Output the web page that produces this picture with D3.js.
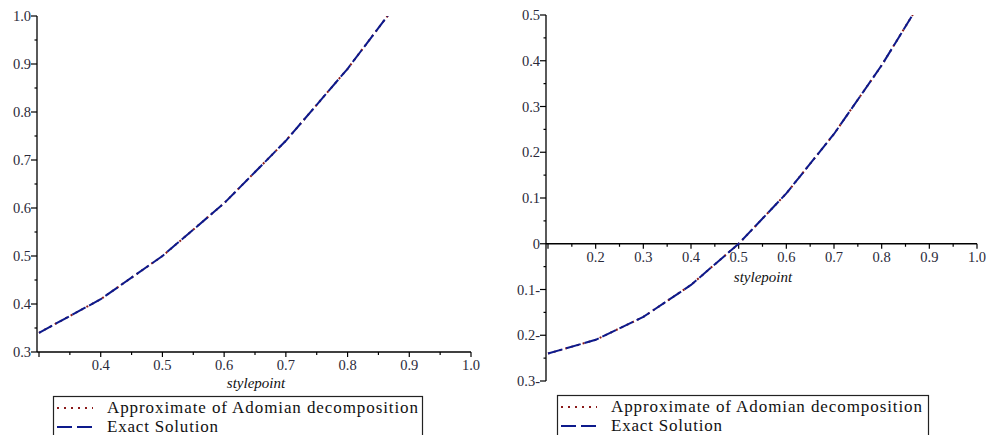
<!DOCTYPE html>
<html>
<head>
<meta charset="utf-8">
<script src="https://cdn.jsdelivr.net/npm/d3@7/dist/d3.min.js"></script>
<style>
  html, body { margin: 0; padding: 0; background: #fff; }
  svg { display: block; }
</style>
</head>
<body>
<svg id="chart" width="986" height="435"></svg>
<script>
// ---- Data ----
const leftX = [0.3, 0.4, 0.5, 0.6, 0.7, 0.8, 0.9, 1.0];
const leftApprox = [0.34, 0.41, 0.50, 0.61, 0.74, 0.89, 1.06, 1.25];
const leftExact  = [0.34, 0.41, 0.50, 0.61, 0.74, 0.89, 1.06, 1.25];

const rightX = [0.1, 0.2, 0.3, 0.4, 0.5, 0.6, 0.7, 0.8, 0.9, 1.0];
const rightApprox = [-0.24, -0.21, -0.16, -0.09, 0.0, 0.11, 0.24, 0.39, 0.56, 0.75];
const rightExact  = [-0.24, -0.21, -0.16, -0.09, 0.0, 0.11, 0.24, 0.39, 0.56, 0.75];

const leftXTicks = [0.4, 0.5, 0.6, 0.7, 0.8, 0.9, 1.0];
const leftYTicks = [0.3, 0.4, 0.5, 0.6, 0.7, 0.8, 0.9, 1.0];
const rightXTicks = [0.2, 0.3, 0.4, 0.5, 0.6, 0.7, 0.8, 0.9, 1.0];
const rightYTicks = [-0.3, -0.2, -0.1, 0, 0.1, 0.2, 0.3, 0.4, 0.5];
const rightYTickLabels = ["0.3-", "0.2-", "0.1-", "0", "0.1", "0.2", "0.3", "0.4", "0.5"];

const legendLabels = ["Approximate of Adomian decomposition", "Exact Solution"];
const xAxisTitle = "stylepoint";

// ---- Styles ----
const approxColor = "#8b1a1a";
const exactColor = "#0d1a8c";
const labelColor = "#2a2a3a";
const FONT = "Liberation Serif";

const svg = d3.select("#chart");

function drawPanel(cfg) {
  const g = svg.append("g");
  const x = d3.scaleLinear().domain(cfg.xDomain).range(cfg.xRange);
  const y = d3.scaleLinear().domain(cfg.yDomain).range(cfg.yRange);
  const x0 = cfg.yAxisAtX;
  const y0 = cfg.xAxisAtY;

  const clipId = "clip" + cfg.id;
  svg.append("clipPath").attr("id", clipId).append("rect")
    .attr("x", cfg.xRange[0] - 2).attr("y", cfg.yRange[1])
    .attr("width", cfg.xRange[1] - cfg.xRange[0] + 4)
    .attr("height", cfg.yRange[0] - cfg.yRange[1]);

  // x axis
  const xMinor = d3.range(cfg.xDomain[0], cfg.xDomain[1] + 0.001, 0.05).map(v => +v.toFixed(2));
  const xAxisG = g.append("g").attr("transform", `translate(0,${y(y0)})`);
  xAxisG.append("line").attr("x1", x(cfg.xDomain[0]) - 2).attr("x2", x(cfg.xDomain[1]))
    .attr("stroke", "#000").attr("stroke-width", 1.3);
  xAxisG.selectAll(".xm").data(xMinor).join("line")
    .attr("x1", d => x(d)).attr("x2", d => x(d))
    .attr("y1", 0).attr("y2", d => (Math.round(d * 100) % 10 === 0) ? 5 : 3)
    .attr("stroke", "#000").attr("stroke-width", 1.2);
  xAxisG.selectAll(".xl").data(cfg.xTicks).join("text")
    .attr("x", d => x(d)).attr("y", 18)
    .attr("text-anchor", "middle")
    .style("font-family", FONT).style("font-size", "14.5px").attr("fill", labelColor)
    .text(d => d.toFixed(1));

  // y axis
  const yMinor = d3.range(cfg.yDomain[0], cfg.yDomain[1] + 0.001, 0.05).map(v => +v.toFixed(2));
  const yAxisG = g.append("g").attr("transform", `translate(${x(x0) - cfg.yAxisOffset},0)`);
  yAxisG.append("line").attr("y1", y(cfg.yDomain[0])).attr("y2", y(cfg.yDomain[1]))
    .attr("stroke", "#000").attr("stroke-width", 1.3);
  yAxisG.selectAll(".ym").data(yMinor).join("line")
    .attr("y1", d => y(d)).attr("y2", d => y(d))
    .attr("x1", 0).attr("x2", d => (Math.round(Math.abs(d) * 100) % 10 === 0) ? -6 : -2.5)
    .attr("stroke", "#000").attr("stroke-width", 1.2);
  yAxisG.selectAll(".yl").data(cfg.yTicks).join("text")
    .attr("x", -6).attr("y", d => y(d))
    .attr("dy", "0.35em")
    .attr("text-anchor", "end")
    .style("font-family", FONT).style("font-size", "14.5px").attr("fill", labelColor)
    .text((d, i) => cfg.yTickLabels ? cfg.yTickLabels[i] : d.toFixed(1));

  // axis title
  g.append("text")
    .attr("x", cfg.titlePos[0]).attr("y", cfg.titlePos[1])
    .attr("text-anchor", "middle")
    .style("font-family", FONT).style("font-style", "italic").style("font-size", "15px")
    .attr("fill", "#111")
    .text(xAxisTitle);

  // lines
  const line = d3.line().x(d => x(d[0])).y(d => y(d[1]));
  const lines = g.append("g").attr("clip-path", `url(#${clipId})`);
  lines.append("path")
    .datum(cfg.xs.map((v, i) => [v, cfg.approx[i]]))
    .attr("d", line).attr("fill", "none")
    .attr("stroke", approxColor).attr("stroke-width", 2)
    .attr("stroke-dasharray", "2,4");
  lines.append("path")
    .datum(cfg.xs.map((v, i) => [v, cfg.exact[i]]))
    .attr("d", line).attr("fill", "none")
    .attr("stroke", exactColor).attr("stroke-width", 2)
    .attr("stroke-dasharray", "15,4");

  // legend
  const lg = g.append("g").attr("transform", `translate(${cfg.legend[0]},${cfg.legend[1]})`);
  lg.append("rect").attr("x", 0.5).attr("y", 0.5)
    .attr("width", cfg.legendW).attr("height", 60)
    .attr("fill", "#fff").attr("stroke", "#222").attr("stroke-width", 1.2);
  const rows = [
    { label: legendLabels[0], color: approxColor, dash: "2,5", width: 311 },
    { label: legendLabels[1], color: exactColor, dash: "15,5", width: 111 }
  ];
  rows.forEach((r, i) => {
    const ry = 12 + i * 19;
    lg.append("line").attr("x1", 4).attr("x2", 40).attr("y1", ry).attr("y2", ry)
      .attr("stroke", r.color).attr("stroke-width", 2).attr("stroke-dasharray", r.dash);
    lg.append("text").attr("x", 54).attr("y", ry + 5)
      .style("font-family", FONT).style("font-size", "17px").attr("fill", "#111")
      .attr("textLength", r.width).attr("lengthAdjust", "spacing")
      .text(r.label);
  });
}

drawPanel({
  id: "L",
  xDomain: [0.3, 1.0], xRange: [39, 471],
  yDomain: [0.3, 1.0], yRange: [352, 16],
  yAxisAtX: 0.3, yAxisOffset: 2, xAxisAtY: 0.3,
  xTicks: leftXTicks, yTicks: leftYTicks,
  xs: leftX, approx: leftApprox, exact: leftExact,
  titlePos: [256, 388],
  legend: [53, 396], legendW: 369
});

drawPanel({
  id: "R",
  xDomain: [0.1, 1.0], xRange: [548, 977],
  yDomain: [-0.3, 0.5], yRange: [381, 15],
  yAxisAtX: 0.1, yAxisOffset: 2, xAxisAtY: 0,
  xTicks: rightXTicks, yTicks: rightYTicks, yTickLabels: rightYTickLabels,
  xs: rightX, approx: rightApprox, exact: rightExact,
  titlePos: [763, 282],
  legend: [557, 395], legendW: 371
});
</script>
</body>
</html>
